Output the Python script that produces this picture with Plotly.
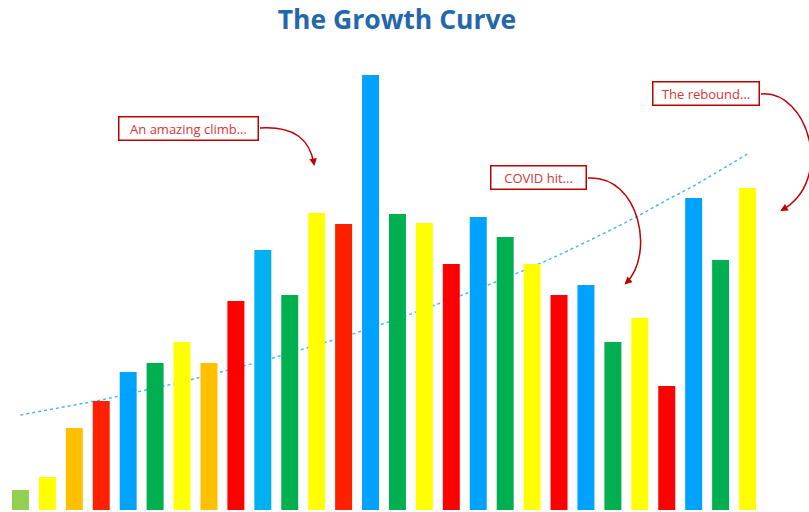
import plotly.graph_objects as go

# ---- data ----
years = [str(y) for y in range(1996, 2024)]
values = [4.0, 6.6, 16.4, 21.8, 27.6, 29.4, 33.6, 29.4, 41.8, 52.0, 43.0, 59.4, 57.2, 87.0,
          59.2, 57.4, 49.2, 58.6, 54.6, 49.2, 43.0, 45.0, 33.6, 38.4, 24.8, 62.4, 50.0, 64.4]
trend = [19.0, 20.0, 21.0, 22.0, 23.2, 24.4, 25.6, 27.0, 28.4, 29.8, 31.4, 33.0, 34.6, 36.4,
         38.2, 40.2, 42.2, 44.2, 46.4, 48.6, 51.0, 53.6, 56.2, 59.0, 62.0, 64.8, 68.0, 71.2]
bar_colors = ["#92D050", "#FFFF00", "#FFC000", "#FF2000", "#00A2FF", "#00B050", "#FFFF00",
              "#FFC000", "#FF0000", "#00B0F0", "#00B050", "#FFFF00", "#FF2000", "#00A2FF",
              "#00B050", "#FFFF00", "#FF0000", "#00A2FF", "#00B050", "#FFFF00", "#FF0000",
              "#00A2FF", "#00B050", "#FFFF00", "#FF0000", "#00A2FF", "#00B050", "#FFFF00"]
notes = ["An amazing climb...", "COVID hit...", "The rebound..."]

W, H = 809, 512
ML, MR, MT, MB = 7, 48, 50, 2
PW, PH = W - ML - MR, H - MT - MB


def px(x, y):
    return (x - ML) / PW, (H - MB - y) / PH


fig = go.Figure()
fig.add_trace(go.Scatter(x=years, y=trend, mode="lines",
                         line=dict(color="#4DB6F2", width=1.5, dash="dot"),
                         hoverinfo="skip", zorder=0))
fig.add_trace(go.Bar(x=years, y=values, marker=dict(color=bar_colors, line=dict(width=0)),
                     zorder=1))

# callout boxes
boxes = [((188, 128), 141, 25), ((538, 177.5), 97, 25), ((705.5, 93.5), 108, 25)]
for text, ((cx, cy), w, h) in zip(notes, boxes):
    xx, yy = px(cx, cy)
    fig.add_annotation(x=xx, y=yy, xref="paper", yref="paper", text=text, showarrow=False,
                       xanchor="center", yanchor="middle", width=w - 3, height=h - 3,
                       borderpad=0, bordercolor="#C00000", borderwidth=1.5, bgcolor="white",
                       font=dict(family="Open Sans, sans-serif", size=13, color="#D6353A"))

# curved arrows (cubic bezier in pixel space, converted to paper)
curves = [
    [(260, 128), (295, 126), (310, 140), (314, 164)],
    [(588, 178), (640, 175), (655, 255), (626, 283)],
    [(761, 94), (808, 90), (835, 180), (782, 210)],
]
for pts in curves:
    p = [px(*q) for q in pts]
    path = "M {:.5f} {:.5f} C {:.5f} {:.5f} {:.5f} {:.5f} {:.5f} {:.5f}".format(
        p[0][0], p[0][1], p[1][0], p[1][1], p[2][0], p[2][1], p[3][0], p[3][1])
    fig.add_shape(type="path", path=path, xref="paper", yref="paper",
                  line=dict(color="#C00000", width=1.5))
    (x2, y2), (x3, y3) = pts[2], pts[3]
    dx, dy = x3 - x2, y3 - y2
    n = (dx * dx + dy * dy) ** 0.5
    ex, ey = px(x3 + dx / n * 2, y3 + dy / n * 2)
    fig.add_annotation(x=ex, y=ey, xref="paper", yref="paper", text="", showarrow=True,
                       ax=-dx / n * 8, ay=-dy / n * 8, arrowhead=2, arrowsize=1,
                       arrowwidth=1.5, arrowcolor="#C00000", standoff=0)

fig.update_layout(
    width=W, height=H,
    margin=dict(l=ML, r=MR, t=MT, b=MB),
    paper_bgcolor="white", plot_bgcolor="white",
    showlegend=False, bargap=0.37,
    title=dict(text="<b>The Growth Curve</b>", x=397 / W, xanchor="center",
               y=1 - 20 / H, yanchor="middle", yref="container",
               font=dict(family="Open Sans, sans-serif", size=26.5, color="#2367AD")),
    xaxis=dict(visible=False, range=[-0.5, 27.5]),
    yaxis=dict(visible=False, range=[0, PH / 5]),
)

fig.write_html("out.html")
